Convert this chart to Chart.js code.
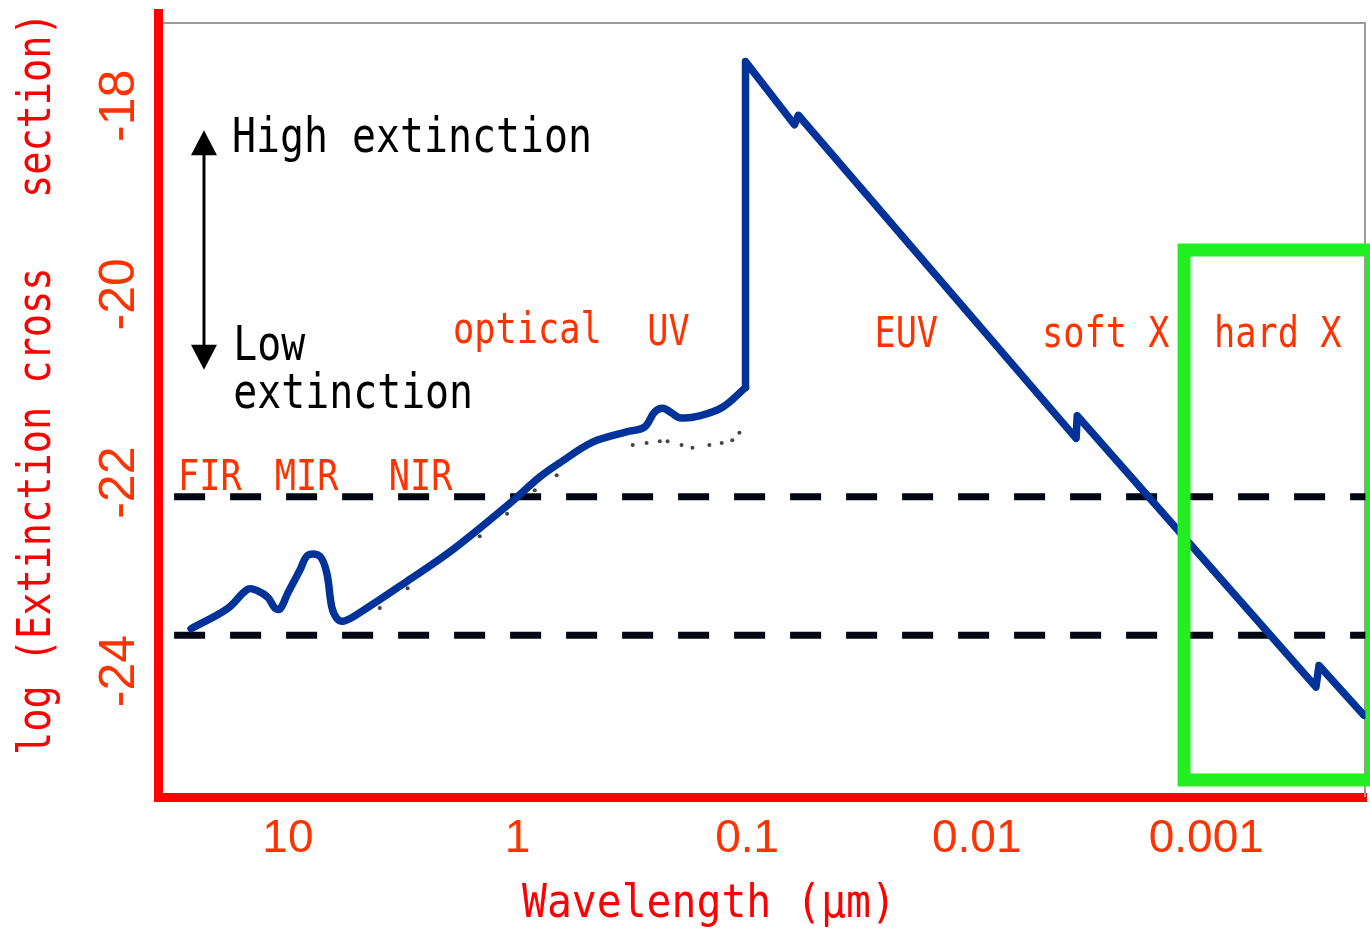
<!DOCTYPE html>
<html>
<head>
<meta charset="utf-8">
<script src="https://cdn.jsdelivr.net/npm/chart.js@4.4.0/dist/chart.umd.min.js"></script>
<style>
html,body{margin:0;padding:0;background:#ffffff;}
#wrap{position:relative;width:1370px;height:928px;}
</style>
</head>
<body>
<div id="wrap"><canvas id="c"></canvas></div>
<script>
// ---- data ----
const wavelengthUm = [26.4, 18.4, 14.9, 13.5, 12.2, 11.4, 10.8, 10.0, 8.87, 8.19, 7.26, 6.77, 6.44, 6.12, 5.71, 4.86, 3.04, 1.91, 1.08, 0.80, 0.655, 0.471, 0.335, 0.280, 0.253, 0.233, 0.213, 0.197, 0.161, 0.128, 0.1016, 0.1016, 0.0622, 0.0598, 0.00369, 0.00365, 0.000333, 0.000323, 0.000206];
const logCrossSection = [-23.55, -23.34, -23.13, -23.15, -23.22, -23.33, -23.34, -23.17, -22.93, -22.77, -22.78, -22.96, -23.32, -23.44, -23.47, -23.38, -23.05, -22.71, -22.22, -21.94, -21.79, -21.57, -21.46, -21.41, -21.25, -21.21, -21.26, -21.31, -21.29, -21.20, -20.99, -17.53, -18.20, -18.10, -21.53, -21.29, -24.17, -23.94, -24.47];
const edgeIndex = 30; // last point before the absorption edge jump

const measuredUm = [3.98, 3.01, 1.46, 1.11, 0.841, 0.675, 0.315, 0.274, 0.240, 0.222, 0.193, 0.173, 0.146, 0.129, 0.116, 0.108];
const measuredLog = [-23.33, -23.12, -22.57, -22.33, -22.08, -21.92, -21.60, -21.58, -21.56, -21.56, -21.60, -21.63, -21.60, -21.58, -21.55, -21.47];

const dashedLevels = [-22.15, -23.62];
const dashedStartUm = 31.3;

const xTickValues = [10, 1, 0.1, 0.01, 0.001];
const xTickLabels = ['10', '1', '0.1', '0.01', '0.001'];
const yTickValues = [-18, -20, -22, -24];
const xRangeUm = [0.0002016, 36.79];
const yRange = [-25.337, -17.014];

const hardXBoxUm = [0.00125, 0.00019];
const hardXBoxLog = [-19.53, -25.156];

const regionNames = ['FIR', 'MIR', 'NIR', 'optical', 'UV', 'EUV', 'soft X', 'hard X'];
const regionAnchorUm = [30.1, 11.4, 3.64, 1.91, 0.272, 0.0279, 0.00519, 0.000925];
const regionAnchorLog = [-22.08, -22.08, -22.08, -20.52, -20.54, -20.56, -20.56, -20.56];

const noteTexts = ['High extinction', 'Low', 'extinction'];
const noteAnchorUm = [17.5, 17.3, 17.3];
const noteAnchorLog = [-18.49, -20.70, -21.21];
const arrowUm = 23.2;
const arrowLog = [-18.26, -20.80];

const xTitle = 'Wavelength (\u03bcm)';
const yTitle = 'log (Extinction cross   section)';

// ---- build datasets ----
const curve = wavelengthUm.map((w, i) => ({x: w, y: logCrossSection[i]}));
const curveLow = curve.slice(0, edgeIndex + 1);
const curveHigh = curve.slice(edgeIndex);
const measured = measuredUm.map((w, i) => ({x: w, y: measuredLog[i]}));
const dashed = dashedLevels.map(l => [{x: dashedStartUm, y: l}, {x: xRangeUm[0], y: l}]);

const MONO = "'DejaVu Sans Mono', 'Liberation Mono', monospace";

function condText(ctx, text, x, y, size, color, sx, rot) {
  ctx.save();
  ctx.translate(x, y);
  if (rot) ctx.rotate(rot);
  ctx.scale(sx, 1);
  ctx.font = size + 'px ' + MONO;
  ctx.fillStyle = color;
  ctx.textAlign = 'left';
  ctx.textBaseline = 'alphabetic';
  ctx.fillText(text, 0, 0);
  ctx.restore();
}

function noPad(s) { s.paddingTop = 0; s.paddingBottom = 0; s.paddingLeft = 0; s.paddingRight = 0; }

const overlay = {
  id: 'overlay',
  beforeDatasetsDraw(chart) {
    const {ctx, chartArea: a} = chart;
    ctx.save();
    ctx.strokeStyle = '#9a9a9a';
    ctx.lineWidth = 2;
    ctx.beginPath();
    ctx.moveTo(a.left + 5, a.top + 10);
    ctx.lineTo(a.right, a.top + 10);
    ctx.moveTo(a.right - 1, a.top + 10);
    ctx.lineTo(a.right - 1, a.bottom);
    ctx.stroke();
    ctx.restore();
  },
  afterDatasetsDraw(chart) {
    const {ctx} = chart;
    const xs = chart.scales.x, ys = chart.scales.y;
    const x1 = xs.getPixelForValue(hardXBoxUm[0]);
    const x2 = xs.getPixelForValue(hardXBoxUm[1]);
    const y1 = ys.getPixelForValue(hardXBoxLog[0]);
    const y2 = ys.getPixelForValue(hardXBoxLog[1]);
    ctx.save();
    ctx.strokeStyle = '#22ee22';
    ctx.lineWidth = 13;
    ctx.lineJoin = 'miter';
    ctx.strokeRect(x1, y1, x2 - x1, y2 - y1);
    ctx.restore();
  },
  afterDraw(chart) {
    const {ctx} = chart;
    const xs = chart.scales.x, ys = chart.scales.y;
    regionNames.forEach((t, i) => {
      condText(ctx, t, xs.getPixelForValue(regionAnchorUm[i]), ys.getPixelForValue(regionAnchorLog[i]), 42, '#ff3300', 0.84);
    });
    noteTexts.forEach((t, i) => {
      condText(ctx, t, xs.getPixelForValue(noteAnchorUm[i]), ys.getPixelForValue(noteAnchorLog[i]), 48, '#000000', 0.83);
    });
    const ax = xs.getPixelForValue(arrowUm);
    const ay1 = ys.getPixelForValue(arrowLog[0]);
    const ay2 = ys.getPixelForValue(arrowLog[1]);
    ctx.save();
    ctx.strokeStyle = '#000000';
    ctx.fillStyle = '#000000';
    ctx.lineWidth = 3;
    ctx.beginPath();
    ctx.moveTo(ax, ay1 + 20);
    ctx.lineTo(ax, ay2 - 20);
    ctx.stroke();
    ctx.beginPath();
    ctx.moveTo(ax, ay1); ctx.lineTo(ax - 13, ay1 + 25); ctx.lineTo(ax + 13, ay1 + 25); ctx.closePath();
    ctx.fill();
    ctx.beginPath();
    ctx.moveTo(ax, ay2); ctx.lineTo(ax - 13, ay2 - 25); ctx.lineTo(ax + 13, ay2 - 25); ctx.closePath();
    ctx.fill();
    ctx.restore();
    condText(ctx, xTitle, 522, chart.height - 11, 46, '#ff0000', 0.9);
    condText(ctx, yTitle, 50, 755, 46, '#ff0000', 0.838, -Math.PI / 2);
  }
};

const blueStyle = {
  borderColor: '#003399',
  borderWidth: 7.5,
  pointRadius: 0,
  borderJoinStyle: 'round',
  borderCapStyle: 'round',
  order: 0
};

new Chart(document.getElementById('c'), {
  type: 'line',
  data: {
    datasets: [
      Object.assign({label: 'extinction (IR-UV)', data: curveLow, tension: 0.35}, blueStyle),
      Object.assign({label: 'extinction (EUV-X)', data: curveHigh, tension: 0}, blueStyle),
      {
        label: 'measured',
        data: measured,
        showLine: false,
        pointRadius: 2,
        pointBackgroundColor: '#444444',
        pointBorderWidth: 0,
        order: 1
      },
      {
        label: 'level1',
        data: dashed[0],
        borderColor: '#020612',
        borderWidth: 7,
        borderDash: [31, 25],
        borderCapStyle: 'butt',
        pointRadius: 0,
        order: 2
      },
      {
        label: 'level2',
        data: dashed[1],
        borderColor: '#020612',
        borderWidth: 7,
        borderDash: [31, 25],
        borderCapStyle: 'butt',
        pointRadius: 0,
        order: 2
      }
    ]
  },
  options: {
    responsive: true,
    maintainAspectRatio: false,
    devicePixelRatio: 1,
    animation: false,
    layout: {padding: {left: 0, right: 3, top: 13, bottom: 0}},
    plugins: {legend: {display: false}, tooltip: {enabled: false}},
    scales: {
      x: {
        type: 'logarithmic',
        reverse: true,
        min: xRangeUm[0],
        max: xRangeUm[1],
        afterBuildTicks: s => { s.ticks = xTickValues.map(v => ({value: v})); },
        afterFit: s => { s.height = 131; noPad(s); },
        grid: {display: false, drawTicks: false},
        border: {display: true, color: '#ff0000', width: 9},
        ticks: {
          autoSkip: false,
          maxRotation: 0,
          minRotation: 0,
          padding: 15,
          color: '#ff3300',
          font: {family: "'Liberation Sans', Arial, sans-serif", size: 46},
          callback: (v, i) => xTickLabels[i]
        }
      },
      y: {
        type: 'linear',
        min: yRange[0],
        max: yRange[1],
        afterBuildTicks: s => { s.ticks = yTickValues.map(v => ({value: v})); },
        afterFit: s => { s.width = 158; noPad(s); },
        grid: {display: false, drawTicks: false},
        border: {display: true, color: '#ff0000', width: 9},
        ticks: {
          autoSkip: false,
          minRotation: 90,
          maxRotation: 90,
          crossAlign: 'center',
          padding: 2,
          color: '#ff3300',
          font: {family: "'Liberation Sans', Arial, sans-serif", size: 50},
          callback: v => String(v)
        }
      }
    }
  },
  plugins: [overlay]
});
</script>
</body>
</html>
